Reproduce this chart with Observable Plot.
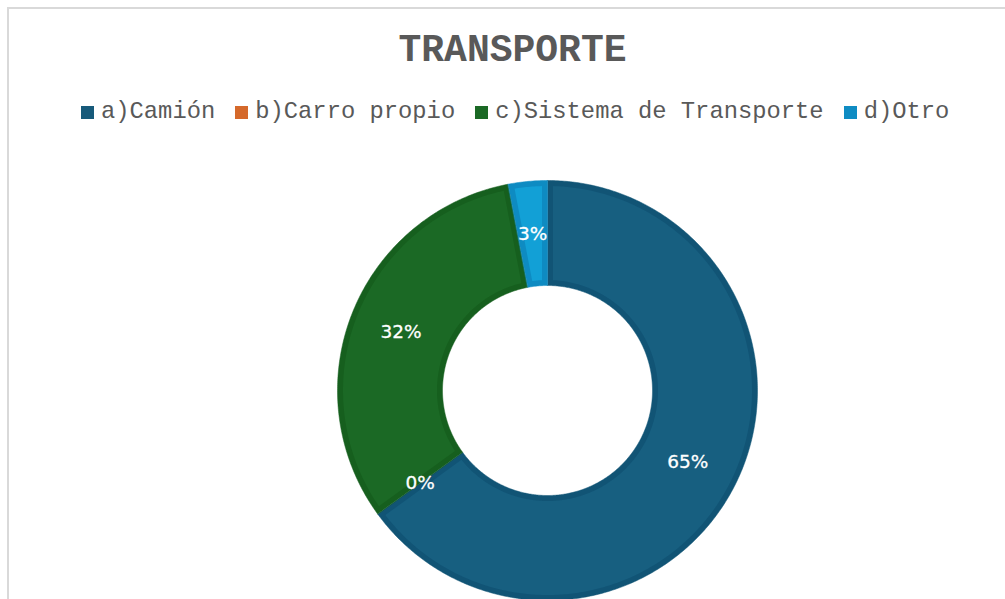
<!DOCTYPE html>
<html><head><meta charset="utf-8">
<script src="https://cdn.jsdelivr.net/npm/d3@7"></script>
<script src="https://cdn.jsdelivr.net/npm/@observablehq/plot@0.6"></script>
<style>
html,body{margin:0;padding:0;background:#fff;overflow:hidden;width:1005px;height:599px;position:relative}
#frame{position:absolute;left:7px;top:7px;width:1100px;height:700px;border-top:2px solid #d9d9d9;border-left:2px solid #d9d9d9;box-sizing:border-box}
#title{position:absolute;left:0;width:1025px;top:32px;text-align:center;font-family:"Liberation Mono",monospace;font-weight:bold;font-size:38px;line-height:38px;color:#595959}
#legend{position:absolute;left:81px;top:100px;display:flex;font-family:"Liberation Mono",monospace;font-size:23.8px;line-height:24px;color:#595959;white-space:pre}
.item{display:flex;align-items:center;margin-right:20px}
.sw{width:13px;height:13px;margin-right:7px}
#chart{position:absolute;left:0;top:130px}
</style></head>
<body>
<div id="frame"></div>
<div id="title">TRANSPORTE</div>
<div id="legend"></div>
<div id="chart"></div>
<script>
const categories = ["a)Camión", "b)Carro propio", "c)Sistema de Transporte", "d)Otro"];
const values = [65, 0, 32, 3];
const labels = ["65%", "0%", "32%", "3%"];
const fillColors = ["#175f80", "#d5692b", "#1b6925", "#12a0d6"];
const borderColors = ["#115475", "#c45e22", "#165f1e", "#0e8bc2"];
const legendColors = ["#175a7a", "#d5692b", "#1b6925", "#0f8cc3"];

// legend
const legend = document.getElementById("legend");
categories.forEach((c, i) => {
  const it = document.createElement("div");
  it.className = "item";
  const sw = document.createElement("div");
  sw.className = "sw";
  sw.style.background = legendColors[i];
  const tx = document.createElement("span");
  tx.textContent = c;
  it.appendChild(sw); it.appendChild(tx);
  legend.appendChild(it);
});

const W = 1005, H = 469, cx = 547, cy = 260;
const R = 210, r = 105, band = 5.5;

const data = categories.map((c, i) => ({cat: c, value: values[i], i}));
const arcs = d3.pie().sort(null).value(d => d.value)(data);

function arcPoints(a0, a1, ro, ri, dao, dai, key, fill) {
  const pts = [];
  const s0 = a0 + dao, s1 = a1 - dao;
  const n = Math.max(2, Math.ceil((s1 - s0) / 0.01) + 1);
  for (let k = 0; k < n; k++) {
    const a = s0 + (s1 - s0) * k / (n - 1);
    pts.push({x: Math.sin(a) * ro, y: Math.cos(a) * ro, key, fill});
  }
  const t0 = a0 + dai, t1 = a1 - dai;
  const m = Math.max(2, Math.ceil((t1 - t0) / 0.01) + 1);
  for (let k = m - 1; k >= 0; k--) {
    const a = t0 + (t1 - t0) * k / (m - 1);
    pts.push({x: Math.sin(a) * ri, y: Math.cos(a) * ri, key, fill});
  }
  return pts;
}

const outerPts = [], innerPts = [], labelPts = [];
arcs.forEach(p => {
  const i = p.data.i;
  const mid = (p.startAngle + p.endAngle) / 2;
  labelPts.push({x: Math.sin(mid) * (R + r) / 2, y: Math.cos(mid) * (R + r) / 2, text: labels[i]});
  if (p.endAngle - p.startAngle <= 0) return;
  outerPts.push(...arcPoints(p.startAngle, p.endAngle, R, r, 0, 0, "o" + i, borderColors[i]));
  const ro = R - band, ri = r + band;
  const dao = Math.asin(band / ro), dai = Math.asin(band / ri);
  if (p.endAngle - p.startAngle > 2 * dai) {
    innerPts.push(...arcPoints(p.startAngle, p.endAngle, ro, ri, dao, dai, "i" + i, fillColors[i]));
  }
});

const chart = Plot.plot({
  width: W, height: H,
  marginTop: 0, marginRight: 0, marginBottom: 0, marginLeft: 0,
  x: {domain: [-cx, W - cx], axis: null},
  y: {domain: [-(H - cy), cy], axis: null},
  color: {type: "identity"},
  marks: [
    Plot.line(outerPts, {x: "x", y: "y", z: "key", fill: "fill", stroke: "fill", strokeWidth: 0.5, curve: "linear-closed"}),
    Plot.line(innerPts, {x: "x", y: "y", z: "key", fill: "fill", stroke: "none", curve: "linear-closed"}),
    Plot.text(labelPts, {x: "x", y: "y", text: "text", fill: "white", fontSize: 18.5, fontFamily: "DejaVu Sans", stroke: "white", strokeWidth: 0.3})
  ]
});
document.getElementById("chart").appendChild(chart);
</script>
</body></html>
